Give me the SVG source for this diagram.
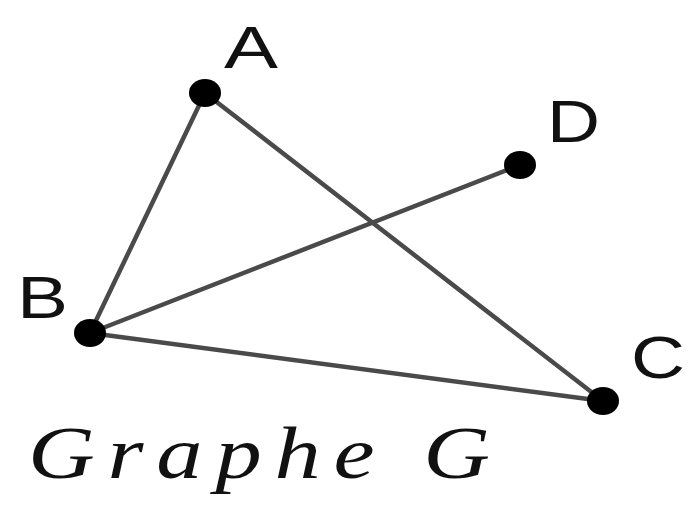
<svg xmlns="http://www.w3.org/2000/svg" width="690" height="511" viewBox="0 0 690 511">
<style>
.edge{stroke:#4a4a4a;stroke-width:4.5;stroke-linecap:round;fill:none}
.dot{fill:#000}
.lbl{font-family:"Liberation Sans",Arial,sans-serif;font-size:60px;fill:#111}
.cap{font-family:"Liberation Serif","Times New Roman",serif;font-style:italic;font-size:74px;fill:#111}
</style>
<rect width="690" height="511" fill="#fff"/>
<g id="edges">
<line class="edge" x1="205" y1="93" x2="90" y2="333"/>
<line class="edge" x1="205" y1="93" x2="603" y2="401"/>
<line class="edge" x1="90" y1="333" x2="520" y2="165"/>
<line class="edge" x1="90" y1="333" x2="603" y2="401"/>
</g>
<g id="A"><ellipse class="dot" cx="205" cy="93" rx="16" ry="14"/><text class="lbl" x="224" y="68" textLength="54" lengthAdjust="spacingAndGlyphs">A</text></g>
<g id="D"><ellipse class="dot" cx="520" cy="165" rx="16" ry="14"/><text class="lbl" x="547" y="142" textLength="53" lengthAdjust="spacingAndGlyphs">D</text></g>
<g id="B"><ellipse class="dot" cx="90" cy="333" rx="16" ry="14"/><text class="lbl" x="17" y="318" textLength="51" lengthAdjust="spacingAndGlyphs">B</text></g>
<g id="C"><ellipse class="dot" cx="603" cy="401" rx="16" ry="14"/><text class="lbl" x="631" y="378" textLength="54" lengthAdjust="spacingAndGlyphs">C</text></g>
<g id="caption"><text class="cap" transform="scale(1.25,1)" x="22.4" y="478" textLength="369.6" lengthAdjust="spacing">Graphe G</text></g>
</svg>
